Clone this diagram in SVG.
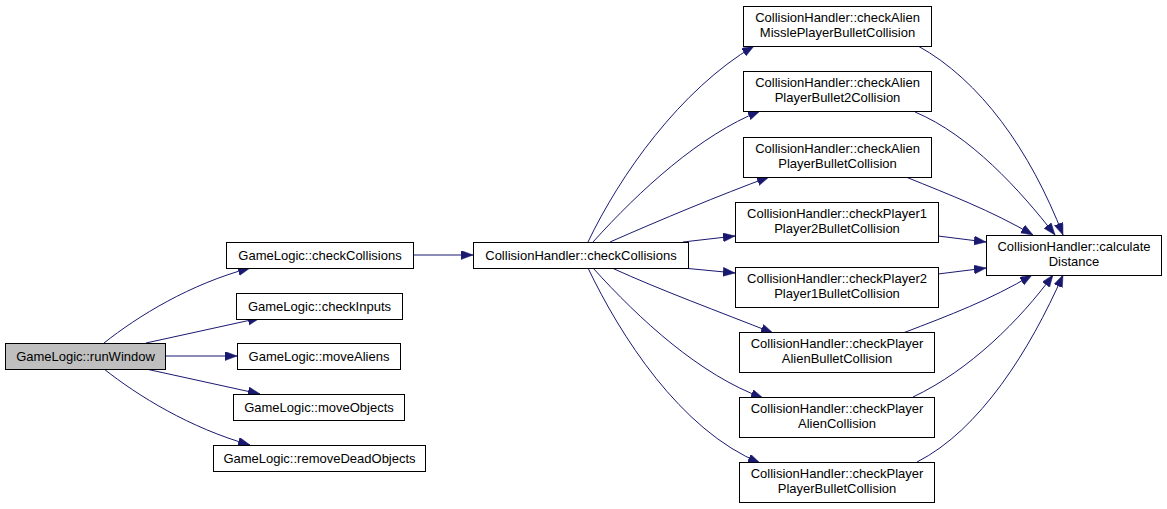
<svg xmlns="http://www.w3.org/2000/svg" width="1167" height="509" viewBox="0 0 1167 509">
<style>
.n rect{fill:#fff;stroke:#000;stroke-width:1}
.n.root rect{fill:#bfbfbf}
.n text{font-family:"Liberation Sans",Arial,sans-serif;font-size:13px;fill:#000;text-anchor:middle}
.e path{fill:none;stroke:#191970;stroke-width:1;marker-end:url(#ah)}
</style>
<defs>
<marker id="ah" markerUnits="userSpaceOnUse" markerWidth="13" markerHeight="10" refX="12" refY="4.5" orient="auto">
<path d="M0,0 L12,4.5 L0,9 z" fill="#191970" stroke="#191970" stroke-width="0.5"/>
</marker>
</defs>
<rect width="1167" height="509" fill="#fff"/>
<g id="edges" class="e">
<path d="M104,343 C138,316 190,284 250,268"/>
<path d="M146,343 L260,318"/>
<path d="M165,356 L237,356"/>
<path d="M146,369 L260,394"/>
<path d="M104,369 C138,396 190,428 250,445"/>
<path d="M413,255 L473,255"/>
<path d="M588,242 C620,175 680,90 754,46"/>
<path d="M593,242 C640,190 700,135 760,111"/>
<path d="M610,242 C660,220 720,195 769,177"/>
<path d="M683,242 L735,236"/>
<path d="M683,268 L735,273"/>
<path d="M612,268 C660,290 720,312 773,333"/>
<path d="M593,268 C640,320 700,375 763,398"/>
<path d="M588,268 C620,335 680,430 760,463"/>
<path d="M918,46 C980,80 1030,150 1063,235"/>
<path d="M915,112 C970,135 1020,190 1055,235"/>
<path d="M906,177 C950,195 990,210 1033,235"/>
<path d="M938,236 L986,242"/>
<path d="M938,274 L986,268"/>
<path d="M903,333 C950,315 990,300 1032,275"/>
<path d="M913,397 C970,370 1020,320 1053,275"/>
<path d="M917,462 C980,430 1030,350 1063,275"/>
</g>
<g id="runWindow" class="n root"><rect x="5.5" y="343.5" width="160" height="26"/><text x="85.5" y="361">GameLogic::runWindow</text></g>
<g id="gl_checkCollisions" class="n"><rect x="226.5" y="242.5" width="187" height="26"/><text x="320" y="260">GameLogic::checkCollisions</text></g>
<g id="checkInputs" class="n"><rect x="236.5" y="293.5" width="166" height="26"/><text x="319.5" y="311">GameLogic::checkInputs</text></g>
<g id="moveAliens" class="n"><rect x="237.5" y="343.5" width="163" height="26"/><text x="319" y="361">GameLogic::moveAliens</text></g>
<g id="moveObjects" class="n"><rect x="233.5" y="394.5" width="171" height="26"/><text x="319" y="412">GameLogic::moveObjects</text></g>
<g id="removeDeadObjects" class="n"><rect x="213.5" y="445.5" width="212" height="26"/><text x="319.5" y="463">GameLogic::removeDeadObjects</text></g>
<g id="ch_checkCollisions" class="n"><rect x="473.5" y="242.5" width="215" height="26"/><text x="581" y="260">CollisionHandler::checkCollisions</text></g>
<g id="alienMissle" class="n"><rect x="743.5" y="6.5" width="188" height="40"/><text x="837.5" y="22">CollisionHandler::checkAlien</text><text x="837.5" y="37">MisslePlayerBulletCollision</text></g>
<g id="alienBullet2" class="n"><rect x="743.5" y="71.5" width="188" height="40"/><text x="837.5" y="87">CollisionHandler::checkAlien</text><text x="837.5" y="102">PlayerBullet2Collision</text></g>
<g id="alienBullet" class="n"><rect x="743.5" y="137.5" width="188" height="40"/><text x="837.5" y="153">CollisionHandler::checkAlien</text><text x="837.5" y="168">PlayerBulletCollision</text></g>
<g id="p1p2" class="n"><rect x="735.5" y="202.5" width="203" height="40"/><text x="837" y="218">CollisionHandler::checkPlayer1</text><text x="837" y="233">Player2BulletCollision</text></g>
<g id="p2p1" class="n"><rect x="735.5" y="267.5" width="203" height="40"/><text x="837" y="283">CollisionHandler::checkPlayer2</text><text x="837" y="298">Player1BulletCollision</text></g>
<g id="playerAlienBullet" class="n"><rect x="739.5" y="332.5" width="195" height="40"/><text x="837" y="348">CollisionHandler::checkPlayer</text><text x="837" y="363">AlienBulletCollision</text></g>
<g id="playerAlien" class="n"><rect x="739.5" y="397.5" width="195" height="40"/><text x="837" y="413">CollisionHandler::checkPlayer</text><text x="837" y="428">AlienCollision</text></g>
<g id="playerPlayerBullet" class="n"><rect x="739.5" y="462.5" width="195" height="40"/><text x="837" y="478">CollisionHandler::checkPlayer</text><text x="837" y="493">PlayerBulletCollision</text></g>
<g id="calculateDistance" class="n"><rect x="986.5" y="235.5" width="175" height="40"/><text x="1074" y="251">CollisionHandler::calculate</text><text x="1074" y="266">Distance</text></g>
</svg>
